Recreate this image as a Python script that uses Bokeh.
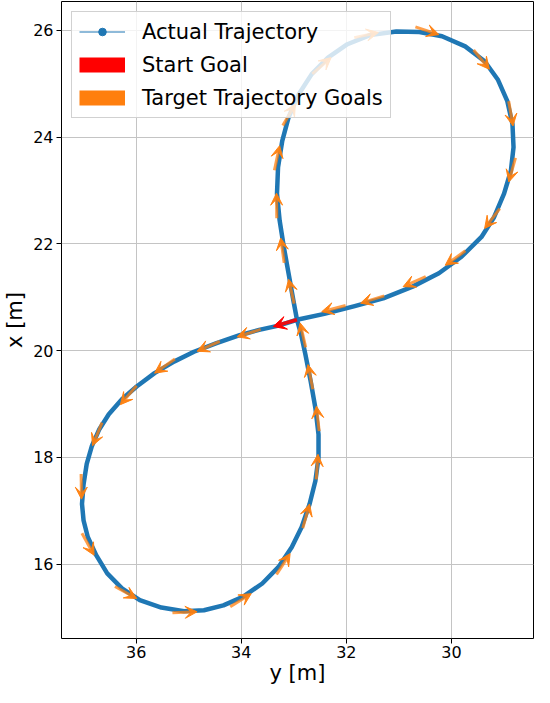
import numpy as np
from bokeh.plotting import figure
from bokeh.models import (Range1d, FixedTicker, Arrow, VeeHead, ColumnDataSource,
                          Legend, LegendItem)
from bokeh.embed import file_html
from bokeh.resources import INLINE

# ---- data ----
# horizontal axis = "y [m]", vertical axis = "x [m]"
traj_y = [32.94, 33.29, 33.66, 34.03, 34.47, 34.90, 35.27, 35.65, 35.99, 36.27,
          36.52, 36.70, 36.84, 36.94, 37.00, 37.03, 37.00, 36.92, 36.76, 36.55,
          36.27, 35.93, 35.52, 35.09, 34.71, 34.34, 33.97, 33.60, 33.29, 33.04,
          32.85, 32.70, 32.59, 32.53, 32.53, 32.59, 32.68, 32.78, 32.86, 32.94,
          33.01, 33.10, 33.19, 33.27, 33.32, 33.30, 33.22, 33.10, 32.91, 32.66,
          32.35, 31.98, 31.55, 31.05, 30.61, 30.18, 29.74, 29.37, 29.12, 28.94,
          28.84, 28.82, 28.87, 29.00, 29.19, 29.43, 29.81, 30.24, 30.74, 31.30,
          31.86, 32.42, 32.94]
traj_x = [20.58, 20.47, 20.39, 20.29, 20.14, 19.98, 19.80, 19.58, 19.33, 19.09,
          18.81, 18.53, 18.22, 17.88, 17.50, 17.13, 16.82, 16.51, 16.17, 15.83,
          15.55, 15.33, 15.19, 15.12, 15.14, 15.23, 15.39, 15.64, 15.95, 16.32,
          16.70, 17.13, 17.56, 18.00, 18.43, 18.93, 19.43, 19.93, 20.30, 20.58,
          20.95, 21.45, 21.94, 22.44, 22.94, 23.44, 23.93, 24.37, 24.80, 25.18,
          25.49, 25.74, 25.91, 25.98, 25.97, 25.89, 25.70, 25.42, 25.08, 24.68,
          24.24, 23.81, 23.37, 22.94, 22.50, 22.13, 21.76, 21.45, 21.20, 20.98,
          20.83, 20.69, 20.58]

goal_y = [34.08, 34.84, 35.65, 36.30, 36.83, 37.04, 36.80, 35.99, 34.84, 33.81,
          33.07, 32.70, 32.54, 32.57, 32.73, 32.88, 33.10, 33.25, 33.33, 33.27,
          32.97, 32.29, 31.39, 30.24, 29.28, 28.83, 28.91, 29.37, 30.12, 30.92,
          31.73, 32.47]
goal_x = [20.26, 19.99, 19.58, 18.99, 18.22, 17.22, 16.17, 15.36, 15.11, 15.45,
          16.20, 17.13, 18.06, 18.96, 19.74, 20.52, 21.34, 22.11, 22.95, 23.84,
          24.62, 25.49, 25.96, 25.92, 25.27, 24.21, 23.16, 22.29, 21.60, 21.20,
          20.89, 20.73]

start_y = [32.94]
start_x = [20.58]

x_ticks = [30, 32, 34, 36]
y_ticks = [16, 18, 20, 22, 24, 26]

BLUE = "#1f77b4"
ORANGE = "#ff7f0e"
RED = "#ff0000"
FONT = "DejaVu Sans"
ARROW_LEN = 0.47

# ---- arrow geometry (goals are arrow tips, heading along the goal sequence) ----
gy = np.array(goal_y)
gx = np.array(goal_x)
ext_y = np.concatenate([start_y, gy, start_y])
ext_x = np.concatenate([start_x, gx, start_x])
dy = ext_y[2:] - ext_y[:-2]
dx = ext_x[2:] - ext_x[:-2]
nrm = np.hypot(dy, dx)
uy, ux = dy / nrm, dx / nrm
goal_src = ColumnDataSource(dict(x0=gy - ARROW_LEN * uy, y0=gx - ARROW_LEN * ux,
                                 x1=gy, y1=gx))

sdy = gy[0] - start_y[0]
sdx = gx[0] - start_x[0]
sn = np.hypot(sdy, sdx)
start_src = ColumnDataSource(dict(x0=start_y, y0=start_x,
                                  x1=[start_y[0] + ARROW_LEN * sdy / sn],
                                  y1=[start_x[0] + ARROW_LEN * sdx / sn]))

# ---- figure ----
p = figure(width=534, height=687, output_backend="svg", toolbar_location=None,
           x_range=Range1d(37.42, 28.44), y_range=Range1d(14.61, 26.54),
           min_border_left=0, min_border_right=1, min_border_top=1,
           min_border_bottom=0, background_fill_color="white",
           border_fill_color="white")

p.outline_line_color = "black"
p.outline_line_alpha = 1
p.outline_line_width = 1

for ax in (p.xaxis[0], p.yaxis[0]):
    ax.axis_line_color = None
    ax.major_tick_line_color = "black"
    ax.major_tick_out = 5
    ax.major_tick_in = 0
    ax.minor_tick_line_color = None
    ax.major_label_text_font = FONT
    ax.major_label_text_font_size = "16px"
    ax.major_label_text_color = "black"
    ax.axis_label_text_font = FONT
    ax.axis_label_text_font_size = "21px"
    ax.axis_label_text_font_style = "normal"
    ax.axis_label_text_color = "black"

p.yaxis.major_label_standoff = 3
p.yaxis.axis_label_standoff = 3
p.xaxis.major_label_standoff = 2
p.xaxis.axis_label_standoff = 0

p.xaxis.axis_label = "y [m]"
p.yaxis.axis_label = "x [m]"
p.xaxis.ticker = FixedTicker(ticks=x_ticks)
p.yaxis.ticker = FixedTicker(ticks=y_ticks)

p.grid.grid_line_color = "#c4c4c4"
p.grid.grid_line_width = 1
p.xgrid.ticker = FixedTicker(ticks=x_ticks)
p.ygrid.ticker = FixedTicker(ticks=y_ticks)

# trajectory
p.line(traj_y, traj_x, line_color=BLUE, line_width=4.5, line_join="round")

# legend proxies (single point -> nothing visible on the plot itself)
leg_line = p.line(start_y, start_x, line_color=BLUE, line_width=1.1)
leg_dot = p.scatter(start_y, start_x, size=3, color=BLUE)
leg_red = p.line(start_y, start_x, line_color=RED, line_width=15, line_cap="butt")
leg_org = p.line(start_y, start_x, line_color=ORANGE, line_width=15, line_cap="butt")

# goal arrows
p.add_layout(Arrow(source=goal_src, x_start="x0", y_start="y0", x_end="x1", y_end="y1",
                   line_color=ORANGE, line_alpha=0.75, line_width=3,
                   end=VeeHead(size=12, fill_color=ORANGE, line_color=ORANGE,
                               fill_alpha=0.95, line_alpha=0.95, line_width=1)))
p.add_layout(Arrow(source=start_src, x_start="x0", y_start="y0", x_end="x1", y_end="y1",
                   line_color=RED, line_alpha=0.9, line_width=3.5,
                   end=VeeHead(size=13, fill_color=RED, line_color=RED,
                               fill_alpha=1, line_width=1)))

legend = Legend(items=[
    LegendItem(label="Actual Trajectory", renderers=[leg_line, leg_dot]),
    LegendItem(label="Start Goal", renderers=[leg_red]),
    LegendItem(label="Target Trajectory Goals", renderers=[leg_org]),
], location="top_left")
legend.label_text_font = FONT
legend.label_text_font_size = "21px"
legend.label_text_color = "black"
legend.glyph_width = 46
legend.glyph_height = 19
legend.label_height = 25
legend.label_standoff = 17
legend.spacing = 8
legend.padding = 7
legend.margin = 10
legend.background_fill_color = "white"
legend.background_fill_alpha = 0.8
legend.border_line_color = "#cccccc"
legend.border_line_alpha = 0.9
p.add_layout(legend)

open("out.html", "w").write(file_html(p, INLINE))
